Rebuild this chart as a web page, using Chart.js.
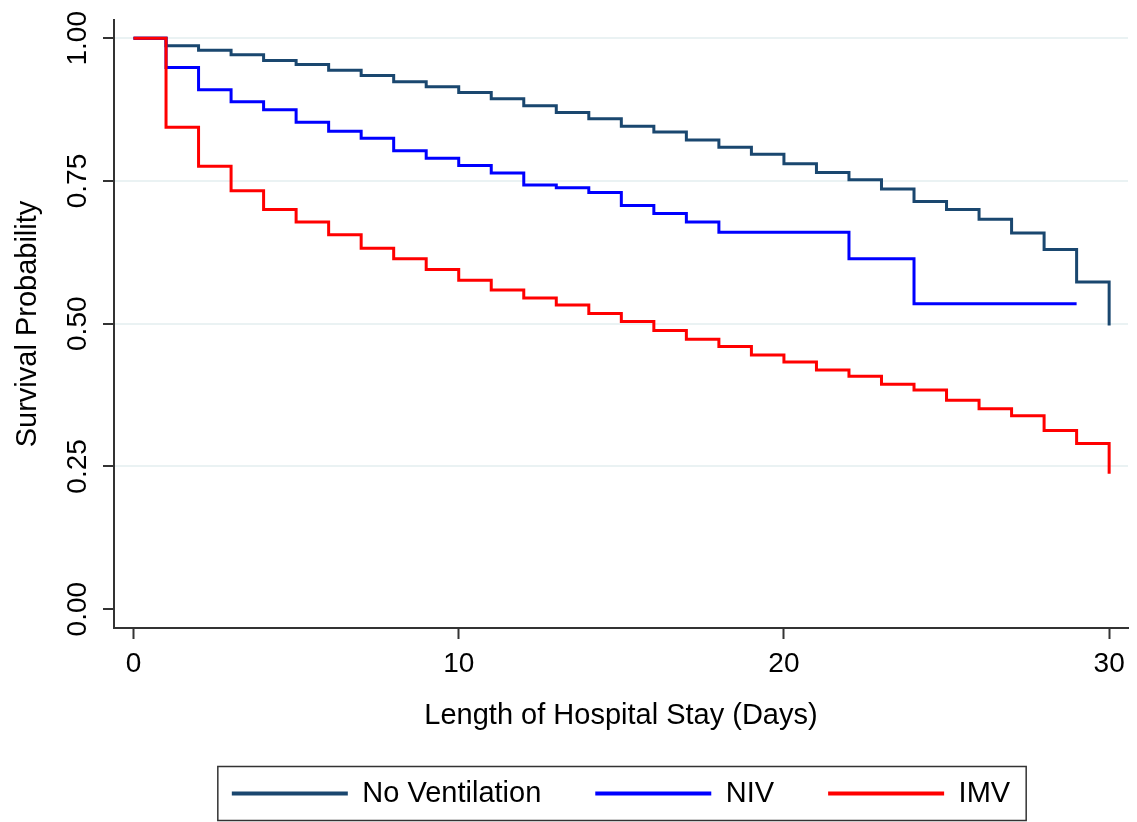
<!DOCTYPE html>
<html>
<head>
<meta charset="utf-8">
<script src="https://cdn.jsdelivr.net/npm/chart.js@4/dist/chart.umd.min.js"></script>
<style>
  html, body { margin: 0; padding: 0; background: #fff; }
  canvas { display: block; }
</style>
</head>
<body>
<canvas id="survivalChart" width="1137" height="822"></canvas>
<script>
// Kaplan-Meier survival estimates, read per day
const days = [0, 1, 2, 3, 4, 5, 6, 7, 8, 9, 10, 11, 12, 13, 14, 15, 16, 17, 18, 19, 20, 21, 22, 23, 24, 25, 26, 27, 28, 29, 30];
const noVentilation = [1.0, 0.987, 0.979, 0.971, 0.961, 0.954, 0.944, 0.935, 0.924, 0.915, 0.905, 0.894, 0.882, 0.870, 0.859, 0.846, 0.836, 0.822, 0.809, 0.797, 0.780, 0.765, 0.752, 0.736, 0.714, 0.700, 0.683, 0.659, 0.630, 0.573, 0.497];
const niv = [1.0, 0.949, 0.910, 0.889, 0.875, 0.853, 0.837, 0.825, 0.803, 0.790, 0.777, 0.764, 0.743, 0.738, 0.730, 0.707, 0.693, 0.678, 0.660, 0.660, 0.660, 0.660, 0.614, 0.614, 0.535, 0.535, 0.535, 0.535, 0.535, 0.535];
const imv = [1.0, 0.844, 0.776, 0.733, 0.700, 0.678, 0.656, 0.632, 0.614, 0.595, 0.576, 0.559, 0.545, 0.533, 0.518, 0.504, 0.488, 0.473, 0.460, 0.445, 0.433, 0.419, 0.408, 0.394, 0.384, 0.366, 0.351, 0.339, 0.313, 0.290, 0.237];
const xTicks = [0, 10, 20, 30];
const yTicks = [0, 0.25, 0.5, 0.75, 1.0];

const FONT = "'Liberation Sans', Arial, sans-serif";
const toPoints = arr => days.filter((d, i) => arr[i] !== undefined).map((d, i) => ({ x: d, y: arr[i] }));

// border round the legend, like the Stata legend box
const legendBox = {
    id: 'legendBox',
    afterDraw(chart) {
        const boxes = chart.legend.legendHitBoxes;
        if (!boxes || !boxes.length) return;
        const left = Math.min(...boxes.map(b => b.left)) - 14;
        const right = Math.max(...boxes.map(b => b.left + b.width)) + 16;
        const cy = boxes[0].top + boxes[0].height / 2;
        const ctx = chart.ctx;
        ctx.save();
        ctx.strokeStyle = '#333';
        ctx.lineWidth = 1.5;
        ctx.strokeRect(left, cy - 27, right - left, 54);
        ctx.restore();
    }
};

const ctx = document.getElementById('survivalChart').getContext('2d');
new Chart(ctx, {
    type: 'line',
    data: {
        datasets: [
            { label: 'No Ventilation', data: toPoints(noVentilation), borderColor: '#1a476f', backgroundColor: '#1a476f', order: 3 },
            { label: 'NIV', data: toPoints(niv), borderColor: '#0000ff', backgroundColor: '#0000ff', order: 2 },
            { label: 'IMV', data: toPoints(imv), borderColor: '#ff0000', backgroundColor: '#ff0000', order: 1 }
        ]
    },
    options: {
        responsive: false,
        animation: false,
        elements: {
            line: { borderWidth: 3, stepped: true, fill: false },
            point: { radius: 0 }
        },
        layout: { padding: { top: 20, right: 9, left: 0, bottom: 4 } },
        scales: {
            x: {
                type: 'linear',
                min: -0.6,
                max: 30.58,
                afterBuildTicks: s => { s.ticks = xTicks.map(v => ({ value: v })); },
                afterFit: s => { s.height = 97; },
                border: { display: true, color: '#333', width: 2 },
                grid: { drawOnChartArea: false, drawTicks: true, tickLength: 11, tickColor: '#333', tickWidth: 2 },
                ticks: { color: '#000', font: { family: FONT, size: 28 }, padding: 8 },
                title: { display: true, text: 'Length of Hospital Stay (Days)', color: '#000', font: { family: FONT, size: 29 }, padding: { top: 0, bottom: -8 } }
            },
            y: {
                min: -0.033,
                max: 1.032,
                afterBuildTicks: s => { s.ticks = yTicks.map(v => ({ value: v })); },
                afterFit: s => { s.width = 114; },
                border: { display: true, color: '#333', width: 2 },
                grid: {
                    color: c => (c.tick && c.tick.value === 0) ? 'rgba(0,0,0,0)' : '#eaf2f3',
                    lineWidth: 2,
                    drawTicks: true,
                    tickLength: 11,
                    tickColor: '#333',
                    tickWidth: 2
                },
                ticks: {
                    color: '#000',
                    font: { family: FONT, size: 28 },
                    minRotation: 90,
                    maxRotation: 90,
                    crossAlign: 'center',
                    padding: -3,
                    callback: v => v.toFixed(2)
                },
                title: { display: true, text: 'Survival Probability', color: '#000', font: { family: FONT, size: 29 }, padding: { top: 11, bottom: 0 } }
            }
        },
        plugins: {
            tooltip: { enabled: false },
            legend: {
                position: 'bottom',
                fullSize: false,
                labels: {
                    color: '#000',
                    font: { family: FONT, size: 29 },
                    boxWidth: 116,
                    boxHeight: 4,
                    padding: 54,
                    sort: (a, b) => a.datasetIndex - b.datasetIndex,
                    generateLabels: chart => Chart.defaults.plugins.legend.labels.generateLabels(chart)
                        .map(item => Object.assign(item, { lineWidth: 0, fillStyle: item.strokeStyle }))
                }
            }
        }
    },
    plugins: [legendBox]
});
</script>
</body>
</html>
